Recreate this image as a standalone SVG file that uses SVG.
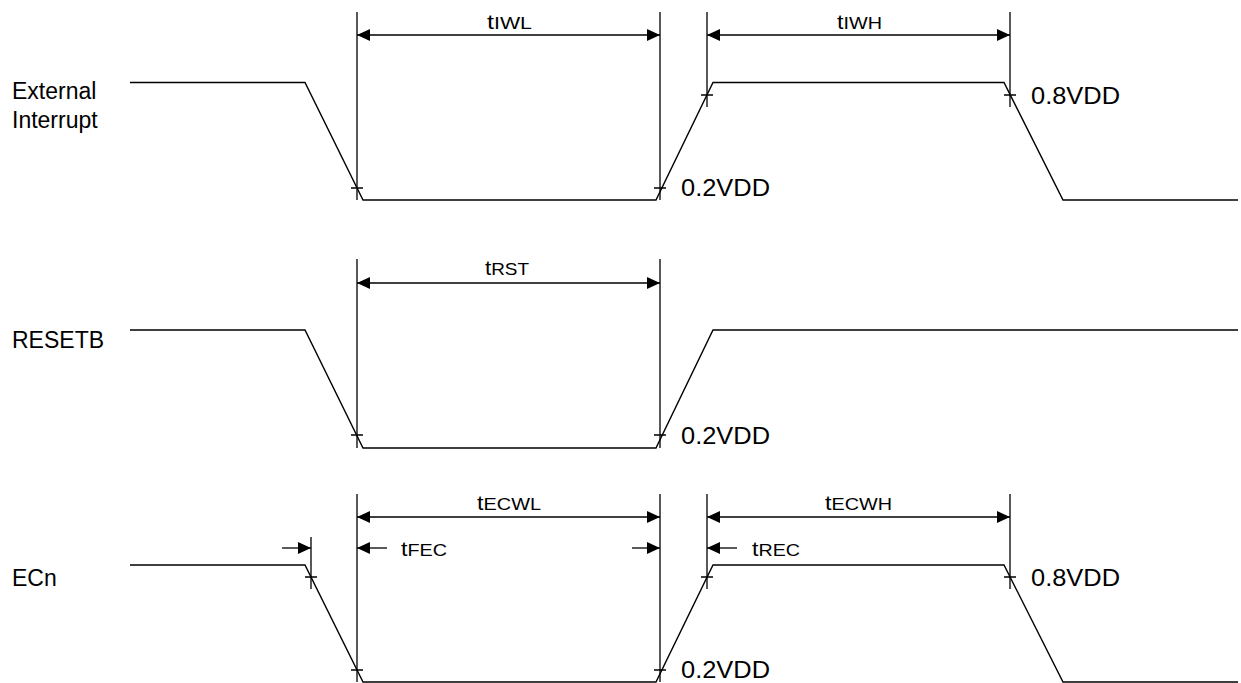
<svg xmlns="http://www.w3.org/2000/svg" width="1241" height="683" viewBox="0 0 1241 683">
<style>
.w{fill:none;stroke:#000;stroke-width:1.4;stroke-linejoin:miter}
.g{fill:none;stroke:#000;stroke-width:1.3}
.a{fill:none;stroke:#000;stroke-width:1.3}
.da{marker-start:url(#ah);marker-end:url(#ah)}
.sa{marker-end:url(#ah)}
.lbl{font-family:"Liberation Sans",Arial,sans-serif;font-size:23px;fill:#000}
.v{font-family:"Liberation Sans",Arial,sans-serif;font-size:24px;fill:#000}
.t{font-family:"Liberation Sans",Arial,sans-serif;font-size:17px;fill:#000}
.tb{font-size:20px}
</style>
<defs>
<marker id="ah" viewBox="0 0 13 12" refX="13" refY="6" markerWidth="13" markerHeight="12" markerUnits="userSpaceOnUse" orient="auto-start-reverse">
<path d="M0,0 L13,6 L0,12 Z" fill="#000"/>
</marker>
</defs>

<g id="signal-labels">
<text class="lbl" x="12" y="99">External</text>
<text class="lbl" x="12" y="128">Interrupt</text>
<text class="lbl" x="12" y="348">RESETB</text>
<text class="lbl" x="12" y="586">ECn</text>
</g>

<g id="waveform-ext-int">
<path class="w" d="M130,82.5 L305,82.5 L363,200 L656,200 L713,82.5 L1004,82.5 L1063,200 L1238,200"/>
</g>
<g id="waveform-resetb">
<path class="w" d="M130,330 L305,330 L363,448 L656,448 L713,330 L1238,330"/>
</g>
<g id="waveform-ecn">
<path class="w" d="M130,565 L305,565 L363,682 L656,682 L713,565 L1004,565 L1063,682 L1238,682"/>
</g>

<g id="guides">
<path class="g" d="M357,12 V200 M660,12 V200 M707,12 V107 M1010,12 V107"/>
<path class="g" d="M357,259 V448 M660,259 V448"/>
<path class="g" d="M311,537 V589 M357,494 V682 M660,494 V682 M707,494 V589 M1010,494 V589"/>
<path class="g" d="M351,188 H363 M654,188 H666 M701,95 H713 M1004,95 H1016"/>
<path class="g" d="M351,435 H363 M654,435 H666"/>
<path class="g" d="M305,577 H317 M351,670 H363 M654,670 H666 M701,577 H713 M1004,577 H1016"/>
</g>

<g id="connectors">
<line class="a da" x1="357" y1="35" x2="660" y2="35"/>
<line class="a da" x1="707" y1="35" x2="1010" y2="35"/>
<line class="a da" x1="357" y1="283" x2="660" y2="283"/>
<line class="a da" x1="357" y1="517" x2="660" y2="517"/>
<line class="a da" x1="707" y1="517" x2="1010" y2="517"/>
<line class="a sa" x1="282" y1="548" x2="311" y2="548"/>
<line class="a sa" x1="387" y1="548" x2="357" y2="548"/>
<line class="a sa" x1="632" y1="548" x2="660" y2="548"/>
<line class="a sa" x1="737" y1="548" x2="707" y2="548"/>
</g>

<g id="timing-labels">
<text class="t" x="487" y="28.5" textLength="45" lengthAdjust="spacingAndGlyphs"><tspan class="tb">t</tspan>IWL</text>
<text class="t" x="837" y="28.5" textLength="45" lengthAdjust="spacingAndGlyphs"><tspan class="tb">t</tspan>IWH</text>
<text class="t" x="485" y="275" textLength="44" lengthAdjust="spacingAndGlyphs"><tspan class="tb">t</tspan>RST</text>
<text class="t" x="477" y="509.5" textLength="64" lengthAdjust="spacingAndGlyphs"><tspan class="tb">t</tspan>ECWL</text>
<text class="t" x="825" y="509.5" textLength="67" lengthAdjust="spacingAndGlyphs"><tspan class="tb">t</tspan>ECWH</text>
<text class="t" x="401" y="556" textLength="46" lengthAdjust="spacingAndGlyphs"><tspan class="tb">t</tspan>FEC</text>
<text class="t" x="752" y="556" textLength="48" lengthAdjust="spacingAndGlyphs"><tspan class="tb">t</tspan>REC</text>
</g>

<g id="level-labels">
<text class="v" x="681" y="196" textLength="89" lengthAdjust="spacingAndGlyphs">0.2VDD</text>
<text class="v" x="681" y="444" textLength="89" lengthAdjust="spacingAndGlyphs">0.2VDD</text>
<text class="v" x="681" y="678" textLength="89" lengthAdjust="spacingAndGlyphs">0.2VDD</text>
<text class="v" x="1031" y="103.5" textLength="89" lengthAdjust="spacingAndGlyphs">0.8VDD</text>
<text class="v" x="1031" y="585.5" textLength="89" lengthAdjust="spacingAndGlyphs">0.8VDD</text>
</g>
</svg>
